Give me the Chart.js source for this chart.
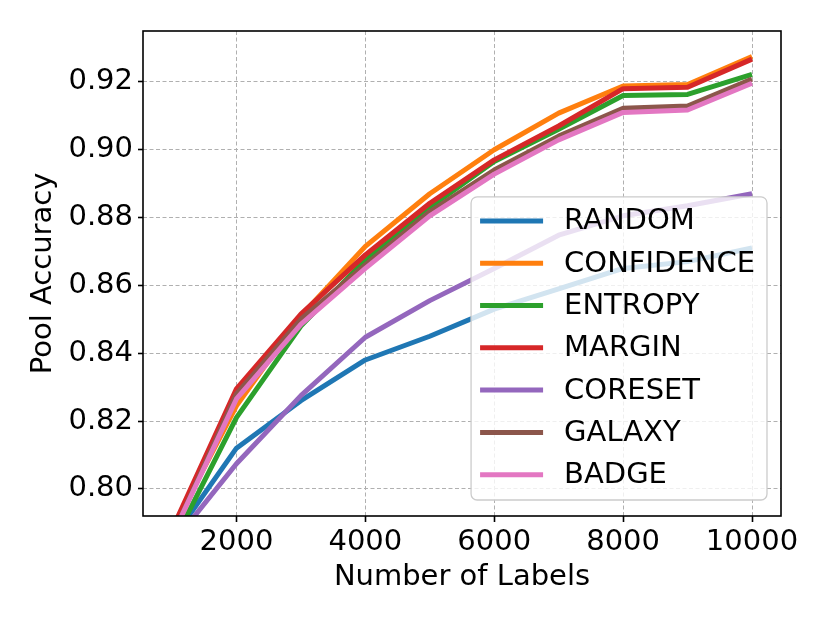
<!DOCTYPE html>
<html>
<head>
<meta charset="utf-8">
<script src="https://cdn.jsdelivr.net/npm/chart.js@4.4.1/dist/chart.umd.min.js"></script>
<style>
  html, body { margin: 0; padding: 0; background: #fff; }
  #wrap { width: 830px; height: 623px; }
</style>
</head>
<body>
<div id="wrap"><canvas id="poolChart"></canvas></div>
<script>
// Pool accuracy vs. number of labels
const numLabels = [1000, 2000, 3000, 4000, 5000, 6000, 7000, 8000, 9000, 10000];
const xTicks = [2000, 4000, 6000, 8000, 10000];
const yTicks = [0.80, 0.82, 0.84, 0.86, 0.88, 0.90, 0.92];

const methods = ["RANDOM", "CONFIDENCE", "ENTROPY", "MARGIN", "CORESET", "GALAXY", "BADGE"];
const colors = ["#1f77b4", "#ff7f0e", "#2ca02c", "#d62728", "#9467bd", "#8c564b", "#e377c2"];

const random     = [0.785, 0.812, 0.826, 0.838, 0.845, 0.853, 0.859, 0.865, 0.867, 0.871];
const confidence = [0.788, 0.8245, 0.851, 0.8715, 0.887, 0.900, 0.9108, 0.9188, 0.9192, 0.9275];
const entropy    = [0.7835, 0.821, 0.848, 0.8675, 0.883, 0.8965, 0.906, 0.916, 0.9163, 0.9222];
const margin     = [0.788, 0.8295, 0.8515, 0.869, 0.8842, 0.897, 0.907, 0.918, 0.9184, 0.9267];
const coreset    = [0.7837, 0.8074, 0.8275, 0.8447, 0.8555, 0.865, 0.8748, 0.8805, 0.8835, 0.887];
const galaxy     = [0.786, 0.828, 0.850, 0.866, 0.8817, 0.894, 0.904, 0.9122, 0.9129, 0.9208];
const badge      = [0.786, 0.8265, 0.8485, 0.865, 0.8805, 0.8928, 0.9029, 0.911, 0.9117, 0.9196];
const series = [random, confidence, entropy, margin, coreset, galaxy, badge];

const FONT = "'DejaVu Sans', sans-serif";
const FSIZE = 29;

// black box round the plot area
const framePlugin = {
  id: "frame",
  afterDatasetsDraw(chart) {
    const { ctx, chartArea: a } = chart;
    ctx.save();
    ctx.strokeStyle = "#000";
    ctx.lineWidth = 1.6;
    ctx.strokeRect(a.left, a.top, a.right - a.left, a.bottom - a.top);
    ctx.restore();
  }
};

// legend inside the plot, lower right
const innerLegend = {
  id: "innerLegend",
  afterDraw(chart) {
    const { ctx, chartArea: a } = chart;
    const sets = chart.data.datasets;
    ctx.save();
    ctx.font = FSIZE + "px " + FONT;
    let maxW = 0;
    sets.forEach(d => { maxW = Math.max(maxW, ctx.measureText(d.label).width); });
    const rowH = 42.3;
    const w = 9 + 63 + 21 + maxW + 12;
    const h = rowH * sets.length + 7;
    const right = a.right - 14, bottom = a.bottom - 16;
    const left = right - w, top = bottom - h;

    ctx.beginPath();
    ctx.roundRect(left, top, w, h, 6);
    ctx.fillStyle = "rgba(255,255,255,0.8)";
    ctx.fill();
    ctx.strokeStyle = "#cccccc";
    ctx.lineWidth = 1.3;
    ctx.stroke();

    sets.forEach((d, i) => {
      const y = top + 24 + i * rowH;
      ctx.beginPath();
      ctx.moveTo(left + 9, y);
      ctx.lineTo(left + 72, y);
      ctx.strokeStyle = d.borderColor;
      ctx.lineWidth = 5;
      ctx.stroke();
      ctx.fillStyle = "#000";
      ctx.textBaseline = "middle";
      ctx.textAlign = "left";
      ctx.fillText(d.label, left + 93, y + 1);
    });
    ctx.restore();
  }
};

const datasets = methods.map((m, i) => ({
  label: m,
  data: numLabels.map((x, j) => ({ x: x, y: series[i][j] })),
  borderColor: colors[i],
  backgroundColor: colors[i],
  borderWidth: 5,
  pointRadius: 0,
  tension: 0,
  fill: false,
  borderJoinStyle: "round",
  order: methods.length - 1 - i
}));

new Chart(document.getElementById("poolChart"), {
  type: "line",
  data: { datasets: datasets },
  plugins: [framePlugin, innerLegend],
  options: {
    responsive: true,
    maintainAspectRatio: false,
    animation: false,
    layout: { padding: { top: 31, right: 49, left: 0, bottom: 0 } },
    plugins: {
      legend: { display: false },
      tooltip: { enabled: false }
    },
    scales: {
      x: {
        type: "linear",
        min: 550,
        max: 10450,
        afterBuildTicks: s => { s.ticks = xTicks.map(v => ({ value: v })); },
        afterFit: s => { s.height = 107; },
        ticks: {
          color: "#000",
          font: { family: FONT, size: FSIZE },
          padding: 3,
          maxRotation: 0,
          callback: v => String(v)
        },
        grid: {
          color: "#b0b0b0",
          lineWidth: 1,
          tickLength: 6,
          tickColor: "#000",
          tickWidth: 1.6
        },
        border: { display: false, dash: [4, 2.5] },
        title: {
          display: true,
          text: "Number of Labels",
          color: "#000",
          font: { family: FONT, size: FSIZE },
          padding: { top: 0, bottom: 28 }
        }
      },
      y: {
        type: "linear",
        min: 0.792,
        max: 0.935,
        afterBuildTicks: s => { s.ticks = yTicks.map(v => ({ value: v })); },
        afterFit: s => { s.width = 143; },
        ticks: {
          color: "#000",
          font: { family: FONT, size: FSIZE },
          padding: 5,
          callback: v => v.toFixed(2)
        },
        grid: {
          color: "#b0b0b0",
          lineWidth: 1,
          tickLength: 5,
          tickColor: "#000",
          tickWidth: 1.6
        },
        border: { display: false, dash: [4, 2.5] },
        title: {
          display: true,
          text: "Pool Accuracy",
          color: "#000",
          font: { family: FONT, size: FSIZE },
          padding: { top: 26, bottom: 0 }
        }
      }
    }
  }
});
</script>
</body>
</html>
